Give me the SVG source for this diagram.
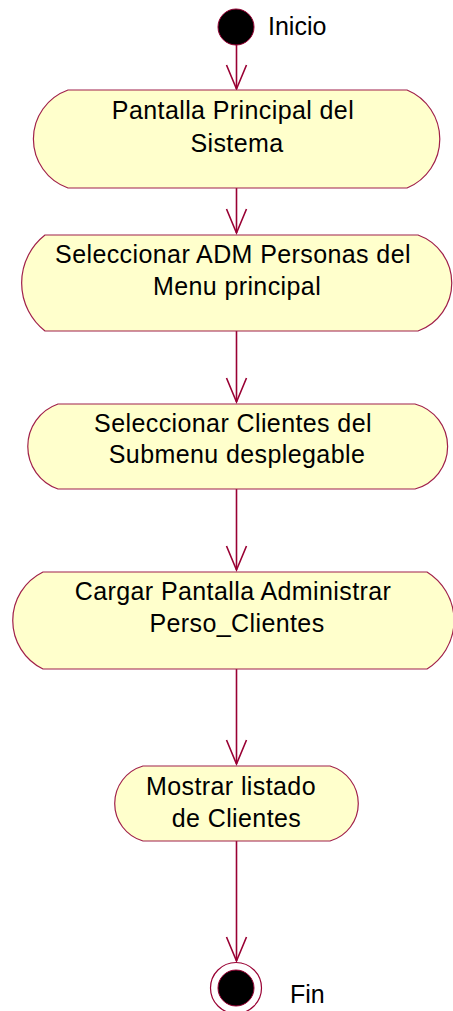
<svg xmlns="http://www.w3.org/2000/svg" width="453" height="1011" viewBox="0 0 453 1011">
<style>
.node{fill:#FFFFCC;stroke:#A0204A;stroke-width:1.2}
.t{font-family:"Liberation Sans",Arial,sans-serif;font-size:25px;letter-spacing:0.4px;fill:#000;text-anchor:middle}
.tl{font-family:"Liberation Sans",Arial,sans-serif;font-size:25px;fill:#000}
.edge{fill:none;stroke:#990033;stroke-width:1.6}
</style>
<rect width="453" height="1011" fill="#FFFFFF"/>
<g id="connectors">
<line class="edge" x1="236.5" y1="45" x2="236.5" y2="89"/>
<line class="edge" x1="236.5" y1="188" x2="236.5" y2="233"/>
<line class="edge" x1="236.5" y1="331" x2="236.5" y2="402"/>
<line class="edge" x1="236.5" y1="489" x2="236.5" y2="570"/>
<line class="edge" x1="236.5" y1="669" x2="236.5" y2="764"/>
<line class="edge" x1="236.5" y1="841" x2="236.5" y2="961"/>
<path class="edge" d="M226.5,65 L236.5,89 L246.5,65"/>
<path class="edge" d="M226.5,209 L236.5,233 L246.5,209"/>
<path class="edge" d="M226.5,378 L236.5,402 L246.5,378"/>
<path class="edge" d="M226.5,546 L236.5,570 L246.5,546"/>
<path class="edge" d="M226.5,740 L236.5,764 L246.5,740"/>
<path class="edge" d="M226.5,937 L236.5,961 L246.5,937"/>
</g>
<g id="inicio">
<circle cx="236" cy="27" r="18" fill="#000" stroke="#990033" stroke-width="1"/>
<text class="tl" x="268" y="35">Inicio</text>
</g>
<g id="n1">
<path class="node" d="M68,90 H407 A53 53 0 0 1 407,188 H68 A52 52 0 0 1 68,90 Z"/>
<text class="t" x="233" y="119">Pantalla Principal del</text>
<text class="t" x="237" y="152">Sistema</text>
</g>
<g id="n2">
<path class="node" d="M45,235 H418 A51 51 0 0 1 418,331 H45 A61 61 0 0 1 45,235 Z"/>
<text class="t" x="233" y="263">Seleccionar ADM Personas del</text>
<text class="t" x="237" y="295">Menu principal</text>
</g>
<g id="n3">
<path class="node" d="M58,404 H415 A44 44 0 0 1 415,489 H58 A45 45 0 0 1 58,404 Z"/>
<text class="t" x="233" y="432">Seleccionar Clientes del</text>
<text class="t" x="237" y="463">Submenu desplegable</text>
</g>
<g id="n4">
<path class="node" d="M43,572 H427 A57 57 0 0 1 427,669 H43 A54 54 0 0 1 43,572 Z"/>
<text class="t" x="233" y="600">Cargar Pantalla Administrar</text>
<text class="t" x="237" y="632">Perso_Clientes</text>
</g>
<g id="n5">
<path class="node" d="M143,766 H330 A39 39 0 0 1 330,841 H143 A39 39 0 0 1 143,766 Z"/>
<text class="t" x="231" y="795">Mostrar listado</text>
<text class="t" x="236.5" y="827">de Clientes</text>
</g>
<g id="fin">
<circle cx="236" cy="988" r="25.5" fill="none" stroke="#990033" stroke-width="1.2"/>
<circle cx="236" cy="988" r="18" fill="#000" stroke="#990033" stroke-width="1"/>
<text class="tl" x="290" y="1003">Fin</text>
</g>
</svg>
